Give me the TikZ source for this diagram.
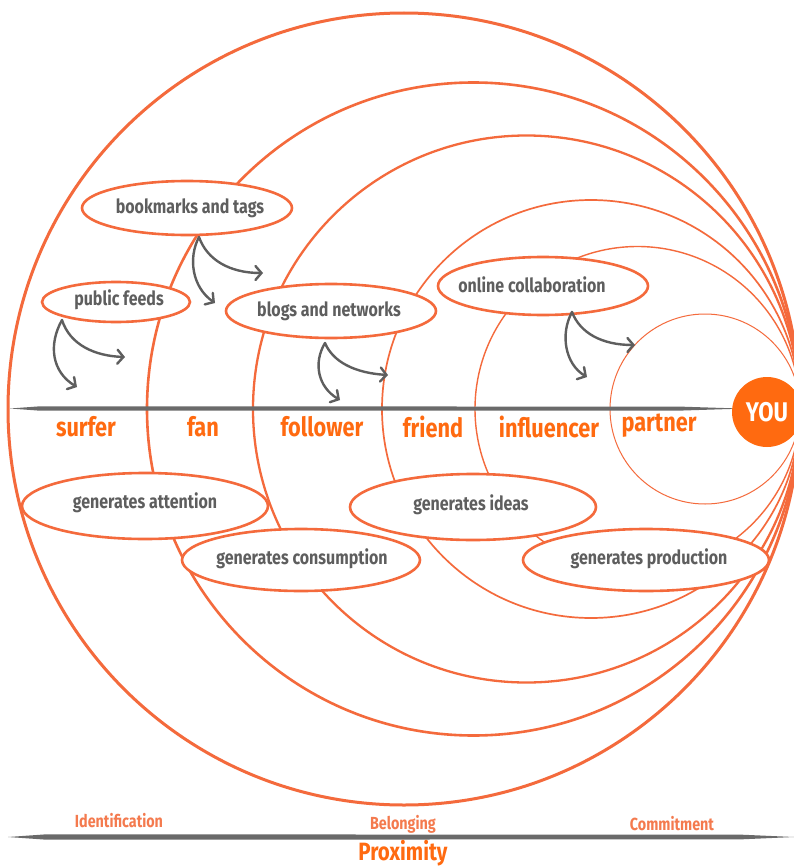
\documentclass[tikz,border=0pt]{standalone}
\usepackage{fontspec}
\newfontfamily\cond[FakeStretch=0.82]{Fira Sans}
\usetikzlibrary{arrows.meta,shapes.geometric}
\definecolor{ring}{HTML}{F46A3C}
\definecolor{hot}{HTML}{FF6A10}
\definecolor{soft}{HTML}{F47A4E}
\definecolor{ink}{HTML}{5E5E5E}
\definecolor{bar}{HTML}{6A6A6A}

\begin{document}
\begin{tikzpicture}[x=1pt,y=-1pt,
  ringline/.style={draw=ring},
  bubble/.style={draw=ring, line width=2.6pt, fill=white, ellipse, inner sep=0pt},
  bubtext/.style={text=ink, font=\cond\bfseries\fontsize{19.5}{19.5}\selectfont, inner sep=0pt},
  stage/.style={text=hot, font=\cond\bfseries\fontsize{26.5}{26.5}\selectfont, inner sep=0pt},
  axislabel/.style={text=soft, font=\cond\bfseries\fontsize{17.5}{17.5}\selectfont, inner sep=0pt},
  flow/.style={draw=ink, line width=2.4pt, line cap=round, -{Straight Barb[length=6pt,width=14pt,line cap=round]}}
]
\useasboundingbox (0,0) rectangle (794,867);
\clip (0,0) rectangle (794,867);
\fill[white] (0,0) rectangle (794,867);

% nested rings, all touching at the right
\draw[ringline, line width=3.0pt] (404,409) circle[radius=396pt];
\draw[ringline, line width=2.6pt] (473.5,409) circle[radius=326.5pt];
\draw[ringline, line width=2.3pt] (526.5,409) circle[radius=273.5pt];
\draw[ringline, line width=1.7pt] (591,409) circle[radius=209pt];
\draw[ringline, line width=1.4pt] (637.5,409) circle[radius=162.5pt];
\draw[ringline, line width=1.0pt] (705,409) circle[radius=95pt];

% tapered axis through the rings
\fill[bar] (10,408.5) -- (40,406.3) -- (680,406.6) -- (733,408.3) -- (733,408.9) -- (680,410.6) -- (40,410.7) -- cycle;

% proximity axis
\fill[bar] (8,837) -- (45,834.4) -- (740,834.6) -- (794,837) -- (740,839.4) -- (45,839.6) -- cycle;

% bubbles
\node[bubble, minimum width=210pt, minimum height=54pt] (bt) at (187,208) {};
\node[bubble, minimum width=148pt, minimum height=40pt] (pf) at (116,302) {};
\node[bubble, minimum width=210pt, minimum height=54pt] (bn) at (331,311) {};
\node[bubble, minimum width=210pt, minimum height=58pt] (oc) at (543,286) {};
\node[bubble, minimum width=246pt, minimum height=66pt] (ga) at (145,506) {};
\node[bubble, minimum width=238pt, minimum height=62pt] (gc) at (301,560) {};
\node[bubble, minimum width=246pt, minimum height=66pt] (gi) at (473,507) {};
\node[bubble, minimum width=246pt, minimum height=62pt] (gp) at (646,560) {};

\node[bubtext] (btt) at (190,208) {bookmarks and tags};
\node[bubtext] (pft) at (119,300) {public feeds};
\node[bubtext] (bnt) at (329,311) {blogs and networks};
\node[bubtext] (oct) at (532,285) {online collaboration};
\node[bubtext] (gat) at (145,503) {generates attention};
\node[bubtext] (gct) at (302,559) {generates consumption};
\node[bubtext] (git) at (471,505) {generates ideas};
\node[bubtext] (gpt) at (649,559) {generates production};

% stages along the axis
\node[stage] (surfer) at (86,427) {surfer};
\node[stage] (fan) at (203,427) {fan};
\node[stage] (follower) at (322,427) {follower};
\node[stage] (friend) at (433,427) {friend};
\node[stage] (influencer) at (549,427) {influencer};
\node[stage] (partner) at (659,426) {partner};

% the centre point
\node[circle, fill=hot, minimum size=70pt, inner sep=0pt,
      text=white, font=\cond\bfseries\fontsize{27}{27}\selectfont] (you) at (767,412) {YOU};

% proximity labels
\node[axislabel] (ident) at (119,821) {Identification};
\node[axislabel] (belong) at (403,824) {Belonging};
\node[axislabel] (commit) at (672,824) {Commitment};
\node[text=hot, font=\cond\bfseries\fontsize{25}{25}\selectfont, inner sep=0pt, anchor=base] (prox) at (403,860) {Proximity};

% flow arrows below the bubbles
\coordinate (pfa) at (62,320);
\coordinate (pfd) at (77,387);
\coordinate (pfr) at (125,357);
\draw[flow] (pfa) .. controls (48,345) and (52,372) .. (pfd);
\draw[flow] (pfa) .. controls (70,345) and (95,356) .. (pfr);

\coordinate (bta) at (199,237);
\coordinate (btd) at (215,303);
\coordinate (btr) at (263,273);
\draw[flow] (bta) .. controls (188,258) and (192,287) .. (btd);
\draw[flow] (bta) .. controls (207,260) and (230,273) .. (btr);

\coordinate (bna) at (325,343);
\coordinate (bnd) at (340,400);
\coordinate (bnr) at (388,375);
\draw[flow] (bna) .. controls (313,363) and (318,387) .. (bnd);
\draw[flow] (bna) .. controls (333,362) and (355,373) .. (bnr);

\coordinate (oca) at (572,312);
\coordinate (ocd) at (587,377);
\coordinate (ocr) at (635,345);
\draw[flow] (oca) .. controls (560,334) and (565,364) .. (ocd);
\draw[flow] (oca) .. controls (580,333) and (602,345) .. (ocr);
\end{tikzpicture}
\end{document}
